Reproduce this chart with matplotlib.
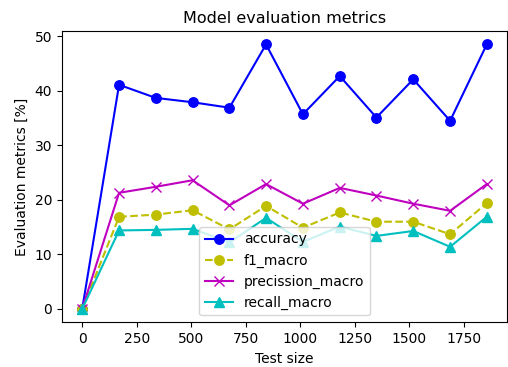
import matplotlib

matplotlib.use("Agg")
import matplotlib.pyplot as plt

test_size = [0, 169, 337, 506, 675, 843, 1012, 1181, 1349, 1518, 1687, 1855]
accuracy = [0, 41.1, 38.7, 37.9, 36.9, 48.5, 35.7, 42.7, 35.1, 42.1, 34.5, 48.5]
f1_macro = [0, 16.9, 17.3, 18.1, 14.6, 18.9, 14.9, 17.7, 16.0, 16.0, 13.7, 19.4]
precission_macro = [0, 21.3, 22.4, 23.6, 19.0, 22.9, 19.3, 22.2, 20.8, 19.3, 18.0, 22.9]
recall_macro = [0, 14.4, 14.5, 14.7, 12.2, 16.7, 12.3, 15.1, 13.4, 14.3, 11.4, 16.9]

fig, ax = plt.subplots(figsize=(5.08, 3.67), dpi=100)
style = dict(linewidth=1.5, markersize=6.8)
ax.plot(test_size, accuracy, "bo-", label="accuracy", **style)
ax.plot(test_size, f1_macro, "yo--", label="f1_macro", **style)
ax.plot(test_size, precission_macro, "mx-", label="precission_macro", **style)
ax.plot(test_size, recall_macro, "c^-", label="recall_macro", **style)
ax.set_title("Model evaluation metrics", fontsize=11.5)
ax.set_xlabel("Test size")
ax.set_ylabel("Evaluation metrics [%]")
ax.legend(loc="lower center")
fig.subplots_adjust(left=0.122, right=0.998, bottom=0.122, top=0.915)
fig.savefig("out.png", dpi=100)
